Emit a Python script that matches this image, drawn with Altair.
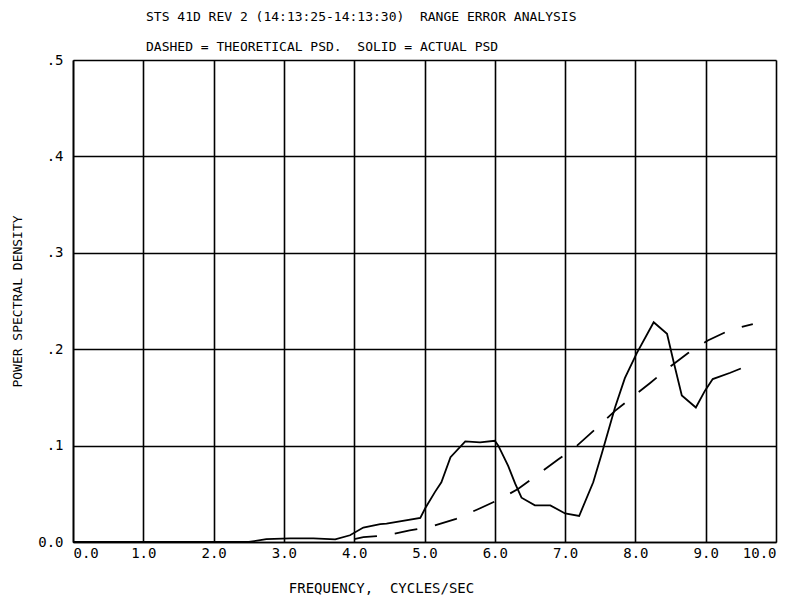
import altair as alt
import pandas as pd

actual_x = [0.0, 2.5, 2.75, 3.09, 3.42, 3.73, 3.94, 4.13, 4.37, 4.46, 4.94, 5.01, 5.15, 5.24, 5.37, 5.58,
            5.79, 6.0, 6.05, 6.19, 6.29, 6.38, 6.57, 6.79, 7.0, 7.2, 7.4, 7.52, 7.71, 7.85, 8.02,
            8.26, 8.45, 8.54, 8.66, 8.86, 8.99, 9.1, 9.35, 9.5]
actual_y = [0.0, 0.0, 0.003, 0.0038, 0.0038, 0.0028, 0.007, 0.015, 0.0186, 0.019, 0.025, 0.035, 0.052,
            0.062, 0.088, 0.1044, 0.1034, 0.105, 0.1, 0.079, 0.0605, 0.046, 0.038, 0.038, 0.0296,
            0.027, 0.062, 0.0914, 0.1395, 0.17, 0.196, 0.228, 0.216, 0.188, 0.152, 0.1395, 0.157,
            0.169, 0.1756, 0.18]

theo_x = [4.0, 4.13, 4.46, 4.79, 5.12, 5.45, 5.76, 6.06, 6.33, 6.63, 6.91, 7.17, 7.43, 7.71, 7.95,
          8.21, 8.46, 8.75, 9.03, 9.35, 9.67]
theo_y = [0.003, 0.005, 0.007, 0.012, 0.0165, 0.024, 0.034, 0.044, 0.055, 0.071, 0.086, 0.1, 0.117,
          0.136, 0.15, 0.165, 0.18, 0.196, 0.209, 0.22, 0.226]

x_ticks = [0, 1, 2, 3, 4, 5, 6, 7, 8, 9, 10]
y_ticks = [0.0, 0.1, 0.2, 0.3, 0.4, 0.5]

actual = pd.DataFrame({"f": actual_x, "psd": actual_y})
theo = pd.DataFrame({"f": theo_x, "psd": theo_y})

FONT = "DejaVu Sans Mono"
NB = "\u00a0\u00a0"

xscale = alt.Scale(domain=[0, 10], nice=False, zero=False)
yscale = alt.Scale(domain=[0, 0.5], nice=False)

xaxis = alt.Axis(values=x_ticks, format=".1f", title="FREQUENCY," + NB + "CYCLES/SEC",
                 grid=True, gridColor="black", gridWidth=1.6, gridOpacity=1,
                 domainColor="black", domainWidth=1.6, ticks=False,
                 labelFont=FONT, labelFontSize=14, labelColor="black", labelPadding=4,
                 titleFont=FONT, titleFontSize=14, titleFontWeight="normal", titleColor="black",
                 titlePadding=21, titleX=308, titleAnchor="start", titleAlign="center")
yaxis = alt.Axis(values=y_ticks,
                 labelExpr="datum.value == 0 ? '0.0' : '.' + format(round(datum.value*10), 'd')",
                 title="POWER SPECTRAL DENSITY",
                 grid=True, gridColor="black", gridWidth=1.6, gridOpacity=1,
                 domainColor="black", domainWidth=1.6, ticks=False,
                 labelFont=FONT, labelFontSize=14, labelColor="black", labelPadding=10,
                 titleFont=FONT, titleFontSize=13, titleFontWeight="normal", titleColor="black",
                 titlePadding=13)

solid = alt.Chart(actual).mark_line(color="black", strokeWidth=1.8).encode(
    x=alt.X("f:Q", scale=xscale, axis=xaxis),
    y=alt.Y("psd:Q", scale=yscale, axis=yaxis),
    order="f:Q",
)
dashed = alt.Chart(theo).mark_line(color="black", strokeWidth=1.8, strokeDash=[23, 18]).encode(
    x=alt.X("f:Q", scale=xscale),
    y=alt.Y("psd:Q", scale=yscale),
    order="f:Q",
)

chart = (solid + dashed).properties(
    width=703, height=482,
    autosize=alt.AutoSizeParams(type="none"),
    padding={"left": 65, "top": 52, "right": 10, "bottom": 56},
    title=alt.TitleParams(
        text=["STS 41D REV 2 (14:13:25-14:13:30)" + NB + "RANGE ERROR ANALYSIS",
              "DASHED = THEORETICAL PSD." + NB + "SOLID = ACTUAL PSD"],
        anchor="start", frame="group", dx=73, font=FONT, fontSize=13,
        fontWeight="normal", color="black", lineHeight=30, offset=-1),
).configure_view(stroke="black", strokeWidth=1.6).configure(background="white")

chart.save("out.html", embed_options={"renderer": "svg", "actions": False})
